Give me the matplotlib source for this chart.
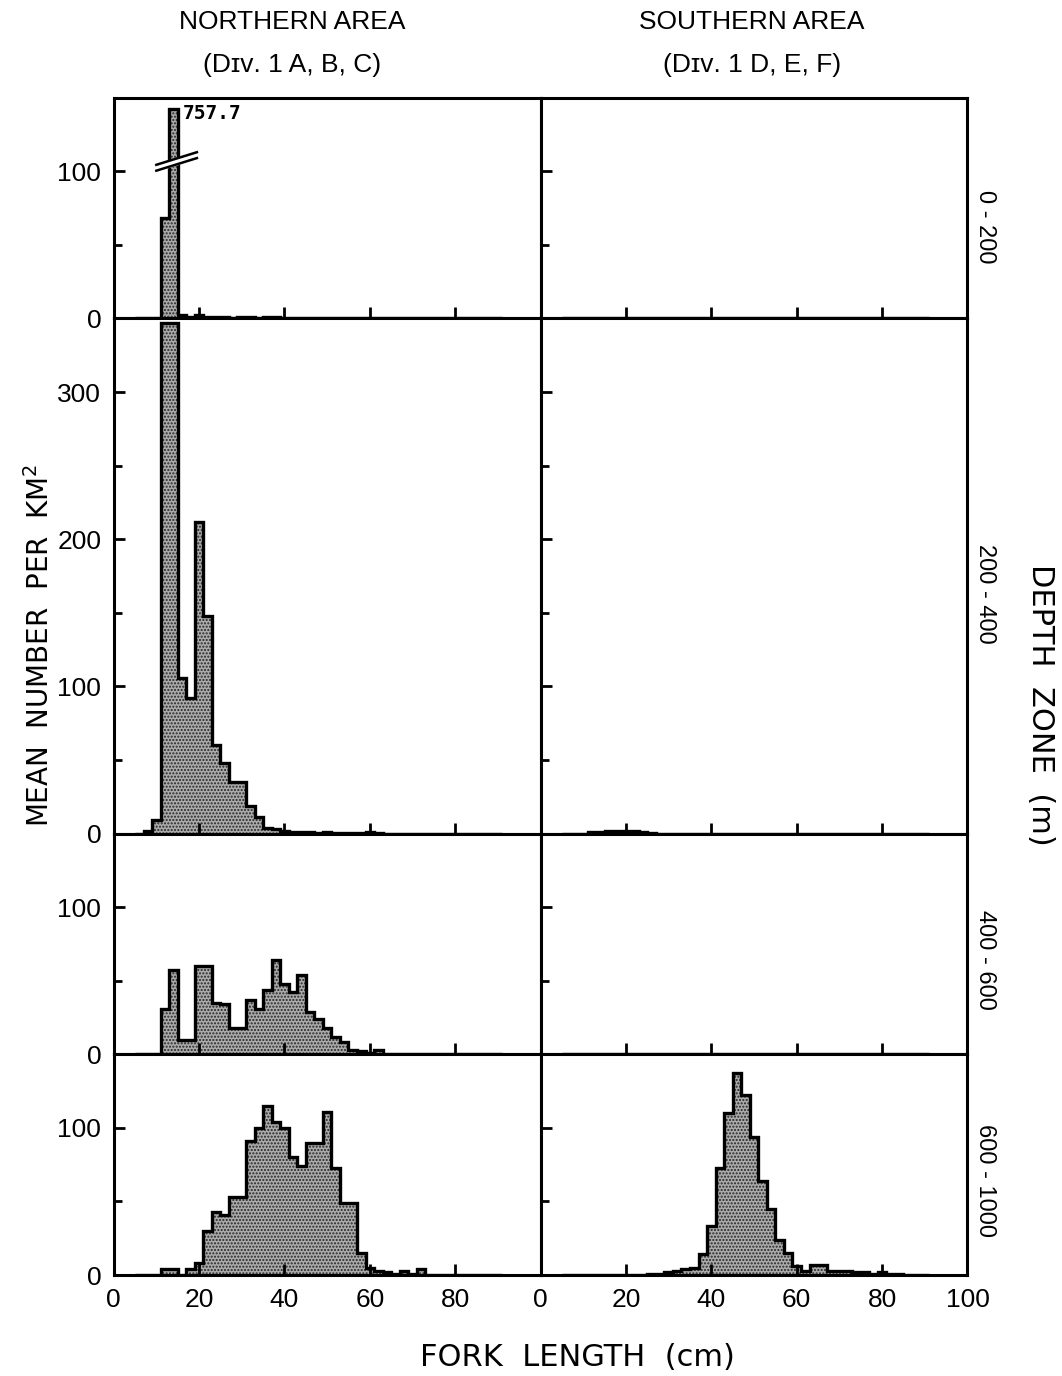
import numpy as np
import matplotlib
matplotlib.use('Agg')
import matplotlib.pyplot as plt
from matplotlib.ticker import MultipleLocator

# Fork-length classes of 2 cm: 5-7, 7-9, ... 89-91 cm
edges = np.arange(5, 93, 2)

# Mean number per km2 (one value per length class)
north_0_200 = [0, 0, 0, 68, 757.7, 2, 1, 2, 1, 1, 1, 0.5, 1, 1, 0.5, 1, 1, 0.5, 0.5, 0,
               0, 0, 0, 0, 0, 0, 0, 0, 0, 0, 0, 0, 0, 0, 0, 0, 0, 0, 0, 0, 0, 0, 0]
south_0_200 = [0, 0, 0, 0, 0, 0, 0, 0, 0, 0, 0, 0, 0, 0, 0, 0, 0, 0, 0, 0,
               0, 0, 0, 0, 0, 0, 0, 0, 0, 0, 0, 0, 0, 0, 0, 0, 0, 0, 0, 0, 0, 0, 0]
north_200_400 = [0, 2, 9, 347, 347, 106, 92, 212, 148, 60, 48, 35, 35, 19, 11, 4, 3, 2, 1, 1,
                 1, 0.5, 1, 0.5, 0.5, 0.5, 0.5, 1, 0.5, 0, 0, 0, 0, 0, 0, 0, 0, 0, 0, 0, 0, 0, 0]
south_200_400 = [0, 0, 0, 1, 1, 1.5, 2, 2, 1.5, 1, 0.5, 0, 0, 0, 0, 0, 0, 0, 0, 0,
                 0, 0, 0, 0, 0, 0, 0, 0, 0, 0, 0, 0, 0, 0, 0, 0, 0, 0, 0, 0, 0, 0, 0]
north_400_600 = [0, 0, 0, 31, 57, 10, 10, 60, 60, 35, 34, 18, 18, 37, 31, 44, 64, 48, 42, 54,
                 29, 24, 18, 12, 8, 3, 2, 1, 3, 0, 0, 0, 0, 0, 0, 0, 0, 0, 0, 0, 0, 0, 0]
south_400_600 = [0, 0, 0, 0, 0, 0, 0, 0, 0, 0, 0, 0, 0, 0, 0, 0, 0, 0, 0, 0,
                 0, 0, 0, 0, 0, 0, 0, 0, 0, 0, 0, 0, 0, 0, 0, 0, 0, 0, 0, 0, 0, 0, 0]
north_600_1000 = [0, 0, 0, 4, 4, 0, 4, 8, 30, 43, 41, 53, 53, 91, 100, 115, 104, 100, 80, 74,
                  90, 90, 111, 73, 49, 49, 15, 5, 3, 2, 1, 3, 1, 4, 0, 0, 0, 0, 0, 0, 0, 0, 0]
south_600_1000 = [0, 0, 0, 0, 0, 0, 0, 0, 0, 0, 1, 1, 2, 3, 4, 5, 14, 33, 73, 110,
                  137, 122, 94, 64, 45, 24, 15, 6, 3, 7, 7, 3, 3, 3, 2, 2, 1, 2, 1, 0.5, 0, 0, 0]

depth_zones = ['0 - 200', '200 - 400', '400 - 600', '600 - 1000']
areas = ['NORTHERN AREA', 'SOUTHERN AREA']
divisions = ['(Dɪᴠ. 1 A, B, C)', '(Dɪᴠ. 1 D, E, F)']

panels = [(north_0_200, south_0_200),
          (north_200_400, south_200_400),
          (north_400_600, south_400_600),
          (north_600_1000, south_600_1000)]
y_tops = [150, 350, 150, 150]
broken_cap = 142   # the off-scale class in the 0-200 m panel is drawn cut at this height

narrow = ['Liberation Sans', 'DejaVu Sans']
fill_kw = dict(fill=True, facecolor='#ababab', edgecolor='#262626', hatch='.....', linewidth=0)
plt.rcParams['hatch.linewidth'] = 1.0

fig = plt.figure(figsize=(10.62, 13.76), dpi=100)
gs = fig.add_gridspec(4, 2, left=0.107, right=0.911, top=0.929, bottom=0.0734,
                      hspace=0, wspace=0, height_ratios=y_tops)

for r in range(4):
    for c in range(2):
        ax = fig.add_subplot(gs[r, c])
        vals = np.array(panels[r][c], dtype=float)
        shown = vals.copy()
        if r == 0 and c == 0:
            shown = np.minimum(vals, broken_cap)
        ax.stairs(shown, edges, **fill_kw)
        ax.stairs(shown, edges, color='black', linewidth=2.4, baseline=0)

        if r == 0 and c == 0:
            k = int(np.argmax(vals))
            xc = 0.5 * (edges[k] + edges[k + 1])
            bx = np.array([xc - 4, xc + 5.5])
            by = 104 + (bx - xc) * 0.9
            ax.fill_between(bx, by, by + 4, color='white', zorder=3)
            ax.plot(bx, by, color='black', lw=1.8, zorder=4)
            ax.plot(bx, by + 4, color='black', lw=1.8, zorder=4)
            ax.text(edges[k + 1] + 1.2, broken_cap - 3, f'{vals[k]:.1f}',
                    family='DejaVu Sans Mono', fontsize=14, fontweight='bold',
                    va='center', ha='left')

        ax.set_xlim(0, 100)
        ax.set_ylim(0, y_tops[r])
        ax.yaxis.set_major_locator(MultipleLocator(100))
        ax.yaxis.set_minor_locator(MultipleLocator(50))
        ax.xaxis.set_major_locator(MultipleLocator(20))
        ax.tick_params(which='both', direction='in', width=2, top=False, right=False,
                       labelsize=19, pad=9)
        ax.tick_params(which='major', length=8)
        ax.tick_params(which='minor', length=6)
        for lab in ax.get_yticklabels() + ax.get_xticklabels():
            lab.set_family(narrow)
        for sp in ax.spines.values():
            sp.set_linewidth(2.2)
        if c == 1:
            ax.tick_params(labelleft=False)
        if r < 3:
            ax.tick_params(labelbottom=False)
        else:
            ticks = [0, 20, 40, 60, 80] if c == 0 else [0, 20, 40, 60, 80, 100]
            ax.set_xticks(ticks)
            ax.set_xticklabels([str(t) for t in ticks], family=narrow)

# Depth zone labels, one per row on the right
row_mid = [210 / 1376, 577 / 1376, 943 / 1376, 1164 / 1376]
for name, ym in zip(depth_zones, row_mid):
    fig.text(985 / 1062, 1 - ym - 0.012, name, rotation=270, ha='center', va='center',
             fontsize=17, family=narrow)

for i, (area, div) in enumerate(zip(areas, divisions)):
    xm = [292, 752][i] / 1062
    fig.text(xm, 1 - 22 / 1376, area, ha='center', va='center', fontsize=19, family=narrow)
    fig.text(xm, 1 - 65 / 1376, div, ha='center', va='center', fontsize=19, family=narrow)

fig.text(40 / 1062, 1 - 645 / 1376, 'MEAN  NUMBER  PER  KM$^2$', rotation=90,
         ha='center', va='center', fontsize=20)
fig.text(577 / 1062, 1 - 1357 / 1376, 'FORK  LENGTH  (cm)', ha='center', va='center',
         fontsize=22)
fig.text(1040 / 1062, 1 - 705 / 1376, 'DEPTH  ZONE  (m)', rotation=270,
         ha='center', va='center', fontsize=22)

fig.savefig('out.png', dpi=100)
